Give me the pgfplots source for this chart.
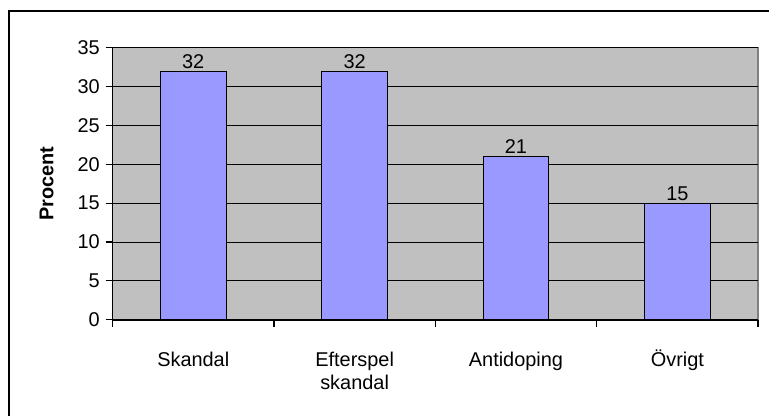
\documentclass[border=0pt]{standalone}
\usepackage{fontspec}
\setmainfont{Liberation Sans}
\usepackage{pgfplots}
\pgfplotsset{compat=1.18}
\definecolor{plotgray}{HTML}{C0C0C0}
\definecolor{barblue}{HTML}{9999FF}
\definecolor{edgegray}{HTML}{808080}
\newcommand{\tl}{\rule{0pt}{19pt}}
\begin{document}
\fontsize{20}{24}\selectfont
\begin{tikzpicture}[x=1pt,y=1pt]
\path (0,0) rectangle (770,416);
\draw[line width=2pt] (9,-2)--(9,405)--(772,405);
\begin{axis}[
  at={(113pt,95pt)}, anchor=south west,
  width=648pt, height=273pt, scale only axis,
  xmin=-0.5, xmax=3.5, ymin=0, ymax=35,
  ytick={0,5,...,35},
  xtick={0,1,2,3},
  xticklabels={\tl Skandal, {\tl Efterspel\\skandal}, \tl Antidoping, {\tl Övrigt}},
  xticklabel style={align=center, anchor=north, yshift=-14pt, font=\fontsize{20}{23}\selectfont},
  minor xtick={-0.5,0.5,1.5,2.5,3.5},
  xtick pos=bottom, ytick pos=left,
  major x tick style={draw=none},
  minor x tick style={draw=black, line width=1.2pt},
  minor tick length=7pt,
  major tick length=7pt,
  tick align=outside,
  ytick style={draw=black, line width=1.2pt},
  yticklabel style={font=\fontsize{20}{24}\selectfont, xshift=1pt},
  /pgf/number format/assume math mode=true,
  ymajorgrids,
  grid style={black, line width=1pt},
  axis line style={draw=none},
  axis background/.style={fill=plotgray, draw=edgegray, line width=1.2pt},
  ybar, bar width=66pt,
  nodes near coords,
  every node near coord/.append style={font=\fontsize{20}{24}\selectfont, black, inner sep=2pt},
  ylabel={\textbf{Procent}},
  ylabel style={at={(axis description cs:-0.102,0.5)}, anchor=center, font=\fontsize{20}{24}\selectfont},
  clip=false,
]
\addplot[fill=barblue, draw=black, line width=1.2pt] coordinates {(0,32) (1,32) (2,21) (3,15)};
\draw[black, line width=1.6pt] (rel axis cs:0,1) -- (rel axis cs:0,0) -- (rel axis cs:1,0);
\end{axis}
\end{tikzpicture}
\end{document}
